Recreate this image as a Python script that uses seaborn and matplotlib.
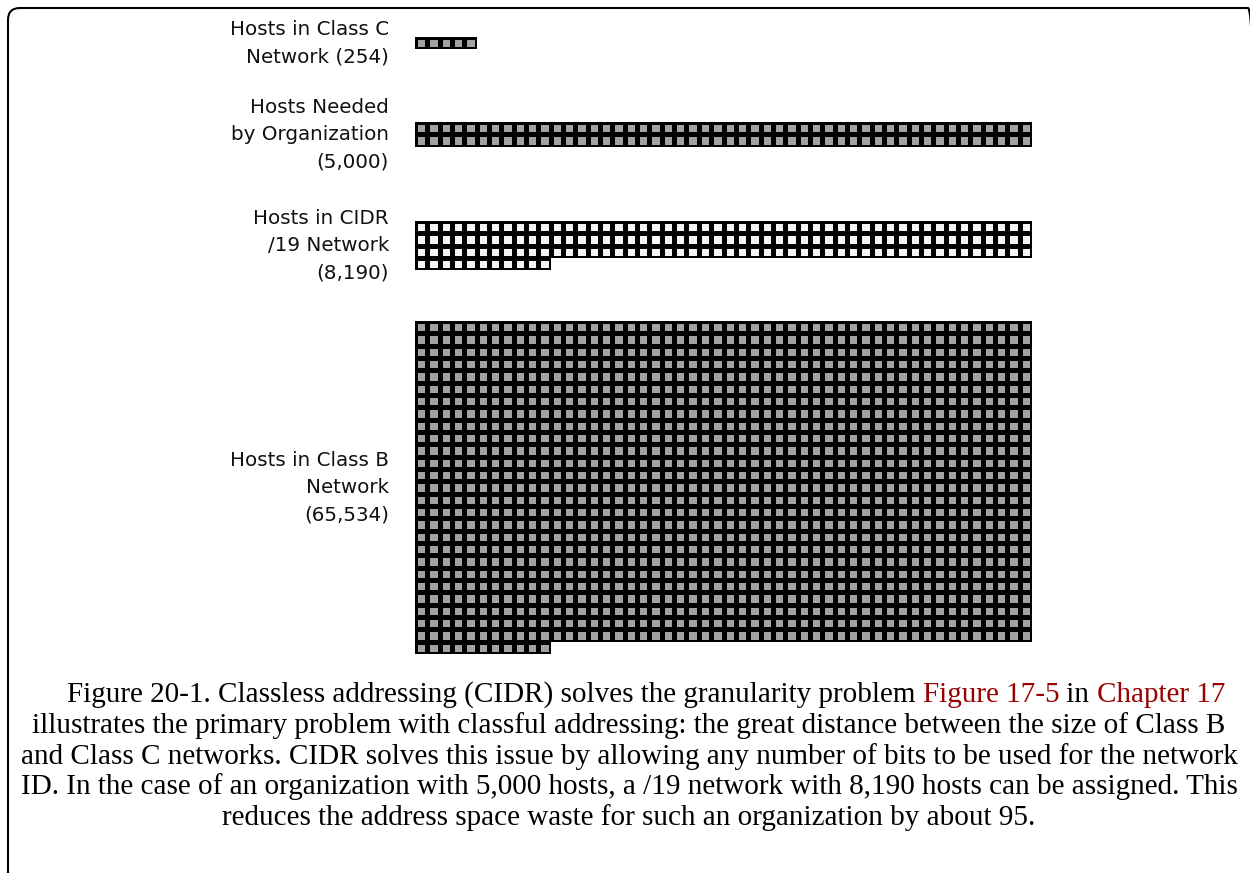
import numpy as np
import matplotlib
matplotlib.use('Agg')
import matplotlib.pyplot as plt
import matplotlib.patches as mpatches
from matplotlib.colors import ListedColormap
import seaborn as sns

# ── Data ──────────────────────────────────────────────────────────────
group_labels = ['Hosts in Class C\nNetwork (254)',
                'Hosts Needed\nby Organization\n(5,000)',
                'Hosts in CIDR\n/19 Network\n(8,190)',
                'Hosts in Class B\nNetwork\n(65,534)']
host_counts = [254, 5000, 8190, 65534]
squares_drawn = [5, 100, 161, 1311]      # squares counted in the figure
square_fill = [0, 0, 1, 0]               # 0 = grey square, 1 = white square
squares_per_row = 50

caption_first = [('Figure 20-1. Classless addressing (CIDR) solves the granularity problem ', 'black'),
                 ('Figure 17-5', '#990000'),
                 (' in ', 'black'),
                 ('Chapter 17', '#990000')]
caption_rest = ['illustrates the primary problem with classful addressing: the great distance between the size of Class B',
                'and Class C networks. CIDR solves this issue by allowing any number of bits to be used for the network',
                'ID. In the case of an organization with 5,000 hosts, a /19 network with 8,190 hosts can be assigned. This',
                'reduces the address space waste for such an organization by about 95.']

# ── Figure ────────────────────────────────────────────────────────────
sns.set_theme(style='white')
W, H = 1250, 873
fig = plt.figure(figsize=(W / 100, H / 100), dpi=100)

label_font = 'DejaVu Sans'
caption_font = 'Liberation Serif'

cell = 617 / squares_per_row            # pixel pitch of one square
block_tops = [37, 122, 221, 321]        # pixel top of each block
left_px = 415
cmap = ListedColormap(['#a2a2a2', '#f4f4f4'])


def square_block(nrows, ncols, fill, top):
    """One rectangular run of squares drawn as a seaborn heatmap."""
    w, h = ncols * cell, nrows * cell
    ax = fig.add_axes([left_px / W, 1 - (top + h) / H, w / W, h / H])
    sns.heatmap(np.full((nrows, ncols), fill, dtype=float), cmap=cmap,
                vmin=0, vmax=1, cbar=False, linewidths=3.4, linecolor='black',
                xticklabels=False, yticklabels=False, ax=ax)
    return h


for label, n, fill, top in zip(group_labels, squares_drawn, square_fill, block_tops):
    full_rows, rest = divmod(n, squares_per_row)
    y = top
    if full_rows:
        y += square_block(full_rows, squares_per_row, fill, y)
    if rest:
        y += square_block(1, rest, fill, y)

    # label right-aligned, centred on the whole block
    fig.text(389 / W, 1 - ((top + y) / 2) / H, label, ha='right', va='center',
             multialignment='right', fontsize=14.3, family=label_font,
             color='#111111', linespacing=1.55)

# ── Caption ───────────────────────────────────────────────────────────
cap_size = 21.0
renderer = fig.canvas.get_renderer()

# first line with coloured references, centred as a whole
pieces = [fig.text(0, 0, s, color=c, family=caption_font, fontsize=cap_size,
                   ha='left', va='baseline') for s, c in caption_first]
widths = [p.get_window_extent(renderer).width for p in pieces]
x = 646 - sum(widths) / 2
base1 = 702
for p, wd in zip(pieces, widths):
    p.set_position((x / W, 1 - base1 / H))
    x += wd

line_gap = 30.8
for i, line in enumerate(caption_rest, start=1):
    fig.text(629 / W, 1 - (base1 + i * line_gap) / H, line, family=caption_font,
             fontsize=cap_size, ha='center', va='baseline', color='black')

# rounded frame, open at the bottom and right
frame = mpatches.FancyBboxPatch((8, -40), 1252, H - 8 + 40,
                                boxstyle='round,pad=0,rounding_size=12',
                                transform=None, fill=False, lw=1.5,
                                edgecolor='black')
fig.add_artist(frame)

fig.savefig('out.png', dpi=100)
